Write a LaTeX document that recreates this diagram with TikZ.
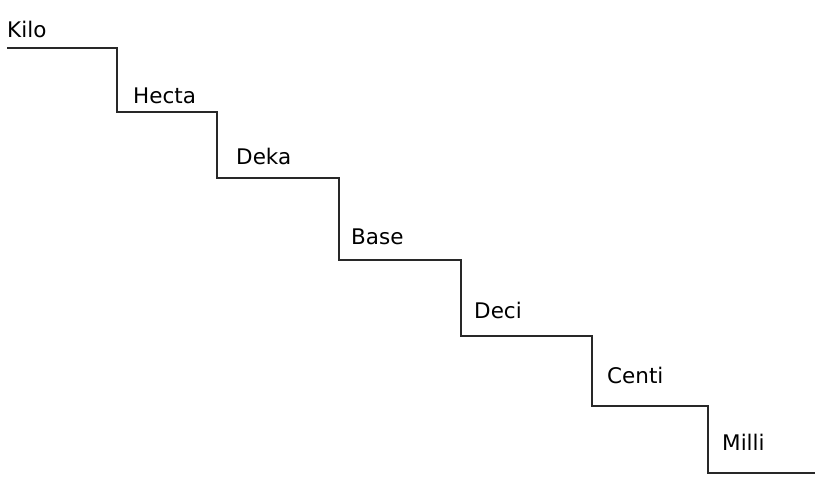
\documentclass[tikz,border=0pt]{standalone}
\usepackage{fontspec}
\setmainfont{DejaVu Sans}
\usepackage{tikz}
\usetikzlibrary{positioning, calc}
\definecolor{stair-gray}{RGB}{40,40,40}

\begin{document}
\begin{tikzpicture}[
    x=1pt, y=-1pt,
    stairline/.style={draw=stair-gray, line width=1.3pt},
    unitlabel/.style={anchor=base west, inner sep=0pt, font=\fontsize{21.5}{25}\selectfont, text=black}
]
\useasboundingbox (0,0) rectangle (819,477);

% corners of the stairs
\coordinate (s0) at (7,48);
\coordinate (s1) at (117,48);
\coordinate (s2) at (217,112);
\coordinate (s3) at (339,178);
\coordinate (s4) at (461,260);
\coordinate (s5) at (592,336);
\coordinate (s6) at (708,406);
\coordinate (s7) at (815,473);

% the stairs
\draw[stairline] (s0) -- (s1) |- (s2) |- (s3) |- (s4) |- (s5) |- (s6) |- (s7);

% unit names, one on each step
\node[unitlabel] (kilo) at (7,37) {Kilo};
\node[unitlabel] (hecta) at (133,103) {Hecta};
\node[unitlabel] (deka) at (236,164) {Deka};
\node[unitlabel] (base) at (351,244) {Base};
\node[unitlabel] (deci) at (474,318) {Deci};
\node[unitlabel] (centi) at (607,383) {Centi};
\node[unitlabel] (milli) at (722,450) {Milli};

\end{tikzpicture}
\end{document}
